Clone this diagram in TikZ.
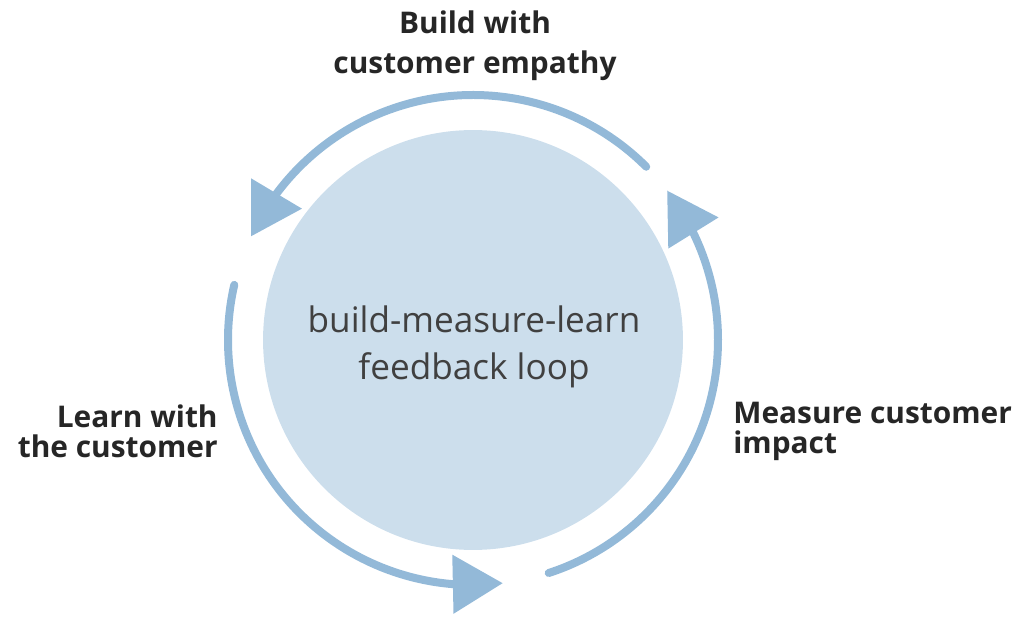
\documentclass[tikz,border=0pt]{standalone}
\usepackage{fontspec}
\setmainfont{Open Sans}
\usepackage{tikz}
\usetikzlibrary{arrows.meta,bending,calc}
\definecolor{hubfill}{HTML}{CCDEEC}
\definecolor{ringcol}{HTML}{93B9D8}
\definecolor{lbltext}{HTML}{262626}

\begin{document}
\begin{tikzpicture}[x=0.02cm, y=0.02cm,
  hub/.style={circle, fill=hubfill, minimum size=8.4cm, inner sep=0pt},
  ring/.style={draw=ringcol, line width=0.16cm, line cap=round,
    -{Triangle[length=1cm, width=1.14cm, flex]}},
  lbl/.style={inner sep=0pt, text=lbltext, font=\fontsize{17}{17}\selectfont\bfseries},
]
\useasboundingbox (0,0) rectangle (1021,616);
\node[hub] (loop) at (473,276) {};
\node[text=black!75, align=center, font=\fontsize{20}{26.7}\selectfont] (txt) at (474,269)
  {build-measure-learn\\feedback loop};
% the three arcs round the loop
\coordinate (s1) at ($(loop.center)+(45:245)$);
\coordinate (s2) at ($(loop.center)+(167:245)$);
\coordinate (s3) at ($(loop.center)+(-72:245)$);
\draw[ring] (s1) arc[start angle=45, end angle=155, radius=245];
\draw[ring] (s2) arc[start angle=167, end angle=277, radius=245];
\draw[ring] (s3) arc[start angle=-72, end angle=37.6, radius=245];
% labels
\node[lbl, align=center, font=\fontsize{17}{22.7}\selectfont\bfseries] (build) at (475,570)
  {Build with\\customer empathy};
\node[lbl, align=right, anchor=east] (learn) at (218,185) {Learn with\\the customer};
\node[lbl, align=left, anchor=west] (measure) at (733,185) {Measure customer\\impact};
\end{tikzpicture}
\end{document}
